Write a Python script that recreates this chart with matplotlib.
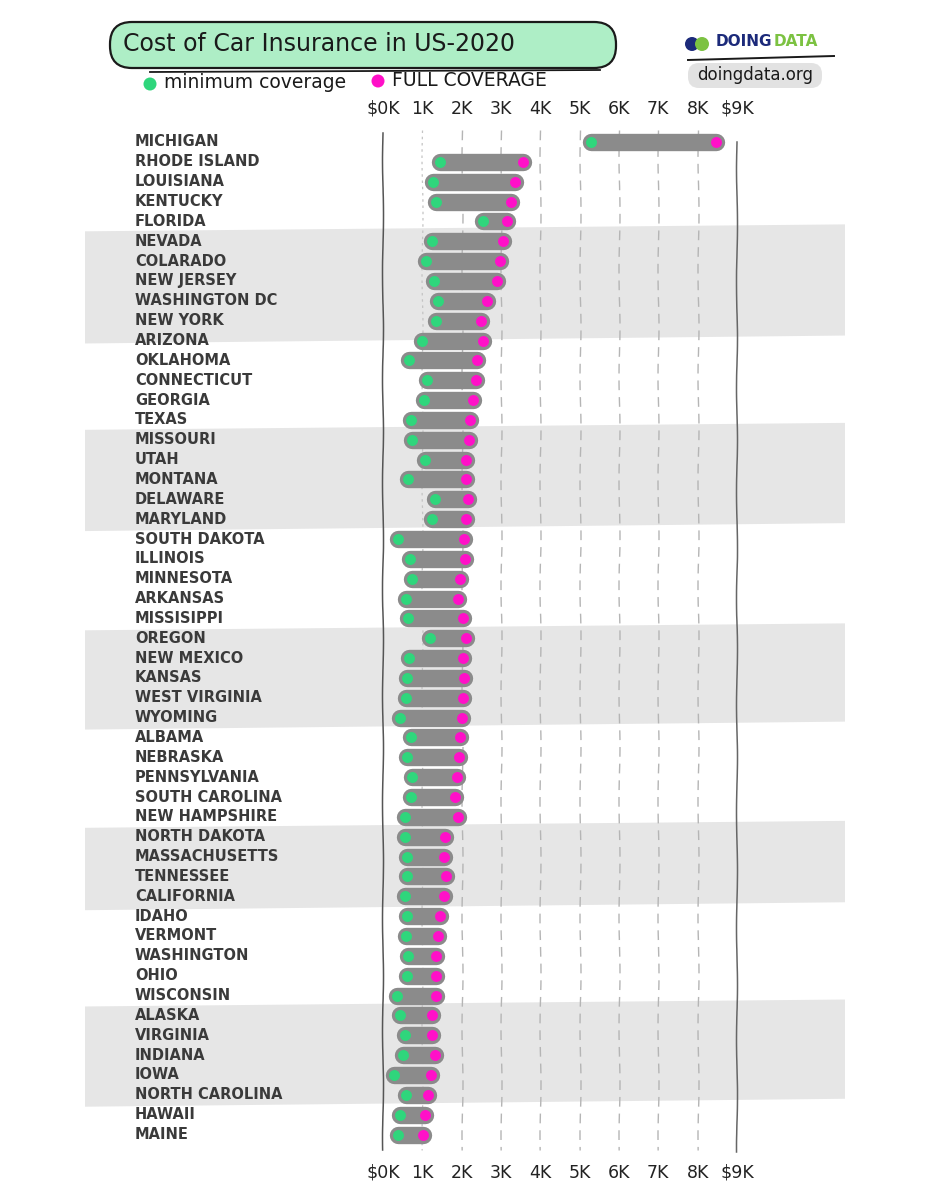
import matplotlib
matplotlib.use("Agg")
import matplotlib.pyplot as plt
from matplotlib.patches import FancyBboxPatch, Polygon, Circle
from matplotlib.transforms import Affine2D

# ---------------- data ($K) ----------------
states = ["MICHIGAN", "RHODE ISLAND", "LOUISIANA", "KENTUCKY", "FLORIDA",
          "NEVADA", "COLARADO", "NEW JERSEY", "WASHINGTON DC", "NEW YORK",
          "ARIZONA", "OKLAHOMA", "CONNECTICUT", "GEORGIA", "TEXAS",
          "MISSOURI", "UTAH", "MONTANA", "DELAWARE", "MARYLAND",
          "SOUTH DAKOTA", "ILLINOIS", "MINNESOTA", "ARKANSAS", "MISSISIPPI",
          "OREGON", "NEW MEXICO", "KANSAS", "WEST VIRGINIA", "WYOMING",
          "ALBAMA", "NEBRASKA", "PENNSYLVANIA", "SOUTH CAROLINA", "NEW HAMPSHIRE",
          "NORTH DAKOTA", "MASSACHUSETTS", "TENNESSEE", "CALIFORNIA", "IDAHO",
          "VERMONT", "WASHINGTON", "OHIO", "WISCONSIN", "ALASKA",
          "VIRGINIA", "INDIANA", "IOWA", "NORTH CAROLINA", "HAWAII", "MAINE"]
min_cost = [5.30, 1.46, 1.28, 1.35, 2.53,
            1.24, 1.09, 1.29, 1.40, 1.36,
            1.00, 0.67, 1.13, 1.04, 0.70,
            0.74, 1.07, 0.64, 1.32, 1.25,
            0.39, 0.69, 0.75, 0.58, 0.63,
            1.19, 0.67, 0.62, 0.58, 0.43,
            0.70, 0.60, 0.74, 0.71, 0.56,
            0.56, 0.60, 0.62, 0.56, 0.62,
            0.58, 0.64, 0.60, 0.36, 0.43,
            0.56, 0.52, 0.29, 0.58, 0.43, 0.39]
full_cost = [8.47, 3.56, 3.35, 3.25, 3.16,
             3.05, 2.97, 2.90, 2.65, 2.50,
             2.55, 2.38, 2.36, 2.28, 2.21,
             2.19, 2.12, 2.11, 2.17, 2.12,
             2.06, 2.08, 1.95, 1.91, 2.04,
             2.12, 2.04, 2.06, 2.04, 2.02,
             1.97, 1.94, 1.89, 1.84, 1.91,
             1.58, 1.56, 1.60, 1.55, 1.46,
             1.40, 1.36, 1.36, 1.34, 1.25,
             1.25, 1.32, 1.22, 1.15, 1.08, 1.01]
tick_values = [0, 1, 2, 3, 4, 5, 6, 7, 8, 9]
tick_labels = ["$0K", "1K", "2K", "3K", "4K", "5K", "6K", "7K", "8K", "$9K"]
band_rows = [(4.45, 10.05), (14.45, 19.5), (24.55, 29.5), (34.5, 38.6), (43.5, 48.5)]

GREEN = "#2fd67c"
PINK = "#ff10c8"
BAR = "#8b8b8b"
BAND = "#e6e6e6"
INK = "#3a3a3a"

W, H = 926, 1200
PXK = 39.33      # pixels per $1K
X0 = 383.0       # pixel of $0K
R0, RS = 142.0, 19.85  # first row pixel, row spacing

fig = plt.figure(figsize=(W / 100, H / 100), dpi=100)
ax = fig.add_axes([0, 0, 1, 1])
ax.set_xlim(-X0 / PXK, (W - X0) / PXK)
ax.set_ylim((H - R0) / RS, -R0 / RS)
ax.axis("off")

# pixel (top-left origin) transform
T = Affine2D().scale(1 / 100, -1 / 100).translate(0, H / 100) + fig.dpi_scale_trans


def xd(px):
    return (px - X0) / PXK


def yd(py):
    return (py - R0) / RS


# ---------------- background bands ----------------
for (a, b) in band_rows:
    poly = Polygon([(xd(85), a + 0.05), (xd(845), a - 0.3),
                    (xd(845), b - 0.3), (xd(85), b + 0.1)],
                   closed=True, fc=BAND, ec="none", zorder=0)
    ax.add_patch(poly)

# ---------------- grid lines ----------------
for v in tick_values:
    if v == 0:
        ln, = ax.plot([v, v], [yd(133), yd(1150)], color="#555555", lw=1.1, zorder=1)
    elif v == 9:
        ln, = ax.plot([v, v], [yd(142), yd(1152)], color="#666666", lw=1.1, zorder=1)
    elif v == 1:
        ln, = ax.plot([v, v], [yd(130), yd(1150)], color="#c4c4c4", lw=0.9,
                      ls=(0, (2, 3)), zorder=1)
    else:
        ln, = ax.plot([v, v], [yd(130), yd(1150)], color="#b5b5b5", lw=1.0,
                      ls=(0, (7, 5)), zorder=1)
    ln.set_sketch_params(scale=0.5, length=120, randomness=2)

# tick labels top & bottom
for v, lab in zip(tick_values, tick_labels):
    ax.text(v, yd(109), lab, ha="center", va="center", fontsize=12.5,
            color="#222222", family="DejaVu Sans")
    ax.text(v, yd(1173), lab, ha="center", va="center", fontsize=12.5,
            color="#222222", family="DejaVu Sans")

# ---------------- bars & dots ----------------
rows = list(range(len(states)))
for i, (a, b) in enumerate(zip(min_cost, full_cost)):
    lo, hi = min(a, b), max(a, b)
    ax.plot([lo, hi], [i, i], color=BAR, lw=12.5, solid_capstyle="round", zorder=2)
ax.scatter(min_cost, rows, s=62, color=GREEN, zorder=3, linewidths=0)
ax.scatter(full_cost, rows, s=62, color=PINK, zorder=3, linewidths=0)

# state labels
for i, s in enumerate(states):
    ax.text(xd(135), i, s, ha="left", va="center", fontsize=10.5,
            color=INK, family="DejaVu Sans", fontweight="bold")

# ---------------- title ----------------
box = FancyBboxPatch((110, 22), 506, 46, boxstyle="round,pad=0,rounding_size=22",
                     transform=T, fc="#aeeec6", ec="#1a1a1a", lw=1.6, zorder=5)
ax.add_patch(box)
ax.plot([150, 600], [72, 70], transform=T, color="#1a1a1a", lw=1.3, zorder=5)
ax.text(123, 44, "Cost of Car Insurance in US-2020", transform=T, ha="left",
        va="center", fontsize=17, color="#1a1a1a", zorder=6, family="DejaVu Sans")

# ---------------- legend ----------------
ax.add_patch(Circle((150, 84), 6.5, transform=T, fc=GREEN, ec="none", zorder=6))
ax.text(164, 83, "minimum coverage", transform=T, ha="left", va="center",
        fontsize=13.5, color="#1a1a1a", family="DejaVu Sans")
ax.add_patch(Circle((378, 81), 6.5, transform=T, fc=PINK, ec="none", zorder=6))
ax.text(392, 80, "FULL COVERAGE", transform=T, ha="left", va="center",
        fontsize=13.5, color="#1a1a1a", family="DejaVu Sans")

# ---------------- logo ----------------
ax.add_patch(Circle((692, 44), 7, transform=T, fc="#1c2a7a", ec="none", zorder=6))
ax.add_patch(Circle((702, 44), 7, transform=T, fc="#7cc242", ec="none", zorder=7))
t_doing = ax.text(716, 42, "DOING", transform=T, ha="left", va="center", fontsize=11,
                  color="#1c2a7a", fontweight="bold", family="DejaVu Sans")
ax.annotate("DATA", xy=(1, 0.5), xycoords=t_doing, xytext=(1, 0),
            textcoords="offset points", ha="left", va="center", fontsize=11,
            color="#7cc242", fontweight="bold", family="DejaVu Sans")
ax.plot([688, 834], [60, 56], transform=T, color="#1a1a1a", lw=1.4)
logo_box = FancyBboxPatch((688, 63), 134, 25, boxstyle="round,pad=0,rounding_size=11",
                          transform=T, fc="#e2e2e2", ec="none", zorder=5)
ax.add_patch(logo_box)
ax.text(755, 75, "doingdata.org", transform=T, ha="center", va="center",
        fontsize=12, color="#1a1a1a", zorder=6, family="DejaVu Sans")

fig.savefig("out.png", dpi=100, facecolor="white")
